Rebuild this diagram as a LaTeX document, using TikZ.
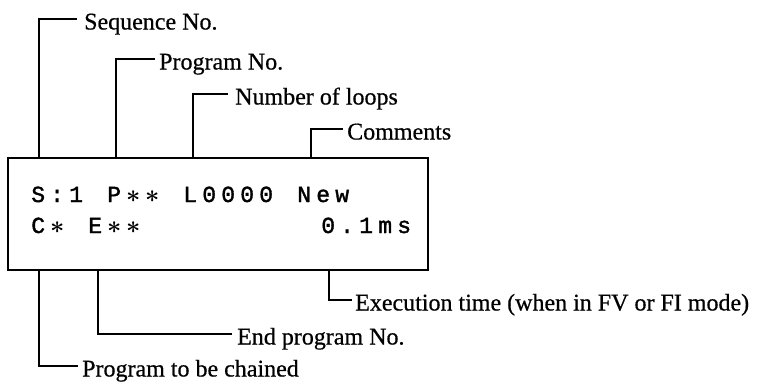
\documentclass[tikz,border=0pt]{standalone}
\usepackage{fontspec}
\setmainfont[RawFeature={embolden=0.6}]{Liberation Serif}
\newfontfamily\dispfont[RawFeature={embolden=1.6}]{Liberation Mono}
\newcommand\mch[1]{\makebox[19pt][c]{#1}}
\newcommand\mst{\mch{\boldmath$\ast$}}
\begin{document}
\begin{tikzpicture}[x=1pt,y=-1pt,
  lbl/.style={anchor=base west, inner sep=0pt, font=\fontsize{24}{28}\selectfont, yshift=-10.5pt},
  lead/.style={line width=1.2pt},
  disptext/.style={anchor=base west, inner sep=0pt, font=\dispfont\fontsize{23}{26}\selectfont},
  frame/.style={draw, line width=1.6pt, inner sep=0pt, anchor=north west, minimum width=420pt, minimum height=112pt}]
\useasboundingbox (0,0) rectangle (757,384);
\node[frame] (disp) at (7,157) {};
% display text
\node[disptext] (row1) at (28.5,202) {\mch{S}\mch{:}\mch{1}\mch{}\mch{P}\mst\mst\mch{}\mch{L}\mch{0}\mch{0}\mch{0}\mch{0}\mch{}\mch{N}\mch{e}\mch{w}};
\node[disptext] (row2) at (28.5,233) {\mch{C}\mst\mch{}\mch{E}\mst\mst};
\node[disptext] (row2b) at (318.5,233) {\mch{0}\mch{.}\mch{1}\mch{m}\mch{s}};
% top labels
\coordinate (seqA) at (39,157);
\node[lbl] (seq) at (84,19) {Sequence No.};
\draw[lead] (seqA) |- ([xshift=-7pt,yshift=10.5pt]seq.base west);
\coordinate (prgA) at (116,157);
\node[lbl] (prg) at (159,59) {Program No.};
\draw[lead] (prgA) |- ([xshift=-4pt,yshift=10.5pt]prg.base west);
\coordinate (lopA) at (193,157);
\node[lbl] (lop) at (235,94) {Number of loops};
\draw[lead] (lopA) |- ([xshift=-7pt,yshift=10.5pt]lop.base west);
\coordinate (comA) at (311,157);
\node[lbl] (com) at (347,129) {Comments};
\draw[lead] (comA) |- ([xshift=-4pt,yshift=10.5pt]com.base west);
% bottom labels
\coordinate (exeA) at (329,269);
\node[lbl] (exe) at (355,300) {Execution time (when in FV or FI mode)};
\draw[lead] (exeA) |- ([xshift=-3pt,yshift=10.5pt]exe.base west);
\coordinate (endA) at (98,269);
\node[lbl] (endp) at (237,334) {End program No.};
\draw[lead] (endA) |- ([xshift=-5pt,yshift=10.5pt]endp.base west);
\coordinate (chnA) at (39,269);
\node[lbl] (chn) at (82,366) {Program to be chained};
\draw[lead] (chnA) |- ([xshift=-4pt,yshift=10.5pt]chn.base west);
\end{tikzpicture}
\end{document}
